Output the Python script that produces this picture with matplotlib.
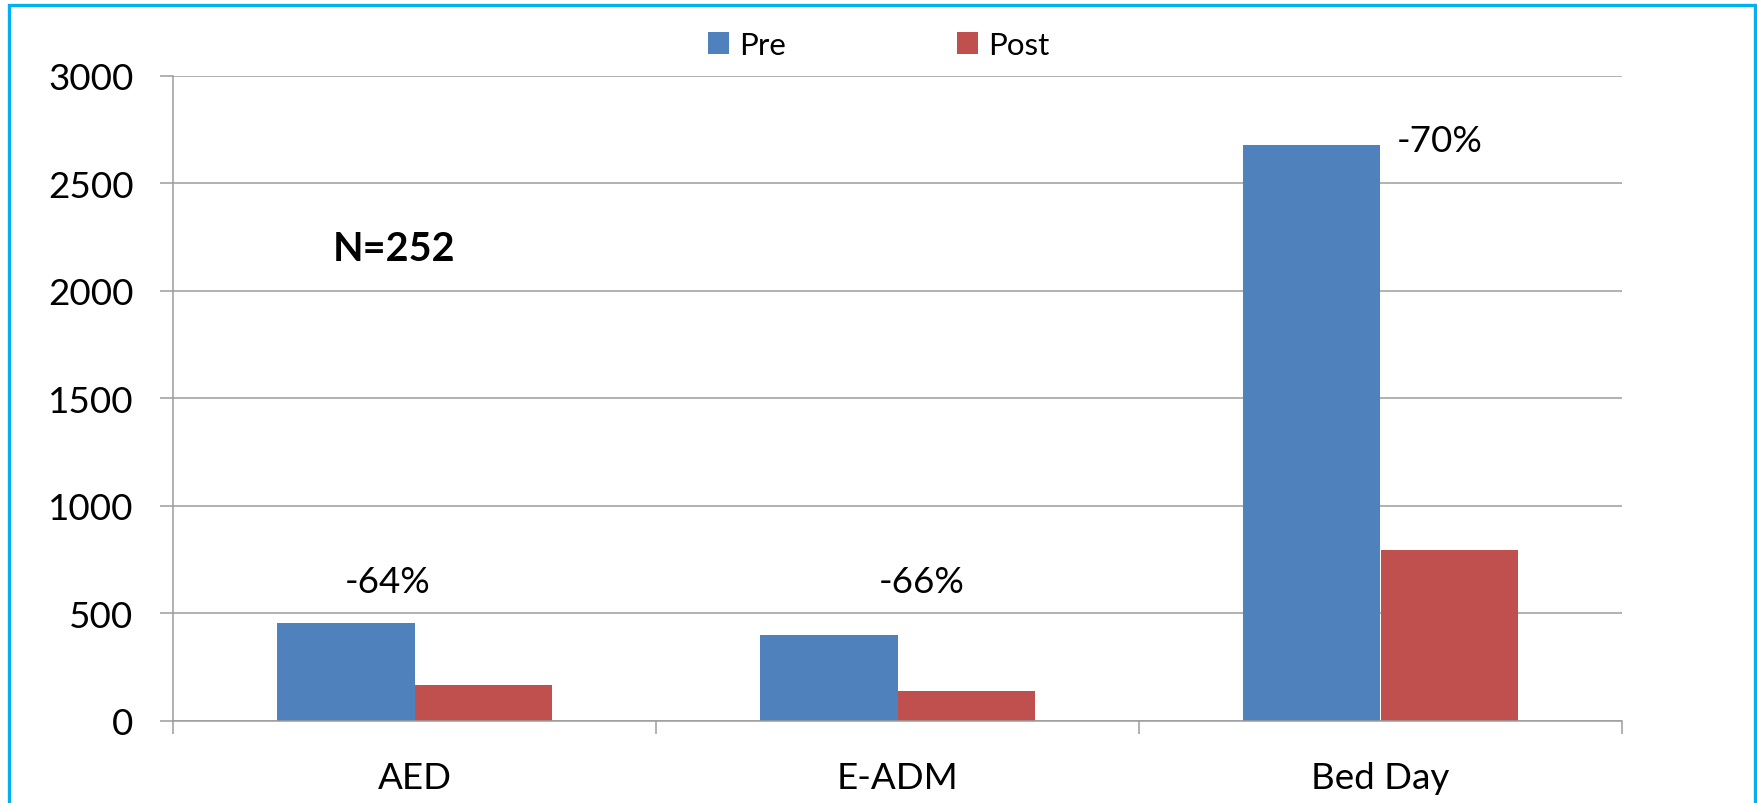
import matplotlib
matplotlib.use("Agg")
import matplotlib.pyplot as plt
from matplotlib.patches import Rectangle, Patch
import numpy as np

# Data
categories = ["AED", "E-ADM", "Bed Day"]
pre_values = [453, 400, 2677]
post_values = [165, 138, 796]
series_names = ["Pre", "Post"]
change_labels = ["-64%", "-66%", "-70%"]
y_ticks = [0, 500, 1000, 1500, 2000, 2500, 3000]
sample_note = "N=252"

# Styling
BLUE = "#4F81BD"
RED = "#C0504D"
GRID = "#9c9c9c"
FRAME = "#00B0F0"
FONT = "Lato"
FS = 26.5

W, H, DPI = 1758, 804, 100
fig = plt.figure(figsize=(W / DPI, H / DPI), dpi=DPI)
fig.patch.set_facecolor("white")

ax = fig.add_axes([173 / W, 1 - 721.7 / H, (1622 - 173) / W, (721.7 - 77) / H])

x = np.arange(len(categories))
bw = 0.285
ax.bar(x - bw / 2, pre_values, width=bw, color=BLUE, label=series_names[0], zorder=3)
ax.bar(x + bw / 2, post_values, width=bw, color=RED, label=series_names[1], zorder=3)

ax.set_xlim(-0.5, len(categories) - 0.5)
ax.set_ylim(0, 3000)

# y axis
ax.set_yticks(y_ticks)
ax.set_yticklabels([str(v) for v in y_ticks], fontsize=FS, fontfamily=FONT)
ax.yaxis.grid(True, color=GRID, linewidth=1.1, zorder=0)
ax.tick_params(axis="y", length=9.4, width=1.1, color=GRID, pad=19, labelcolor="black")

# x axis: boundary ticks, labels at category centers
ax.set_xticks(np.arange(len(categories) + 1) - 0.5)
ax.set_xticklabels([])
ax.set_xticks(x, minor=True)
ax.set_xticklabels(categories, minor=True, fontsize=FS, fontfamily=FONT)
ax.tick_params(axis="x", which="major", length=9.4, width=1.1, color=GRID)
ax.tick_params(axis="x", which="minor", length=0, pad=29, labelcolor="black")

for side in ["top", "right"]:
    ax.spines[side].set_visible(False)
for side in ["left", "bottom"]:
    ax.spines[side].set_color(GRID)
    ax.spines[side].set_linewidth(1.1)
    ax.spines[side].set_zorder(4)

# Change annotations
label_pos = [(-0.055, 646), (1.05, 646), (2.123, 2700)]
for (lx, ly), txt in zip(label_pos, change_labels):
    ax.text(lx, ly, txt, ha="center", va="center", fontsize=FS, fontfamily=FONT)

ax.text(-0.042, 2196, sample_note, ha="center", va="center", fontsize=28.5,
        fontweight="bold", fontfamily=FONT)

# Legend
handles = [Patch(facecolor=BLUE), Patch(facecolor=RED)]
fig.legend(handles, series_names, loc="center left",
           bbox_to_anchor=(708 / W, 1 - 46 / H), ncol=2, frameon=False,
           prop={"family": FONT, "size": 22.5},
           handlelength=0.68, handleheight=0.68, handletextpad=0.33,
           columnspacing=5.45, borderpad=0, borderaxespad=0)

# Outer frame
fig.patches.append(Rectangle((8.7 / W, -0.05), (1755 - 8.7) / W, 1.05 - 6 / H,
                             transform=fig.transFigure, fill=False,
                             edgecolor=FRAME, linewidth=2.4, zorder=10))

fig.savefig("out.png", dpi=DPI, facecolor="white")
